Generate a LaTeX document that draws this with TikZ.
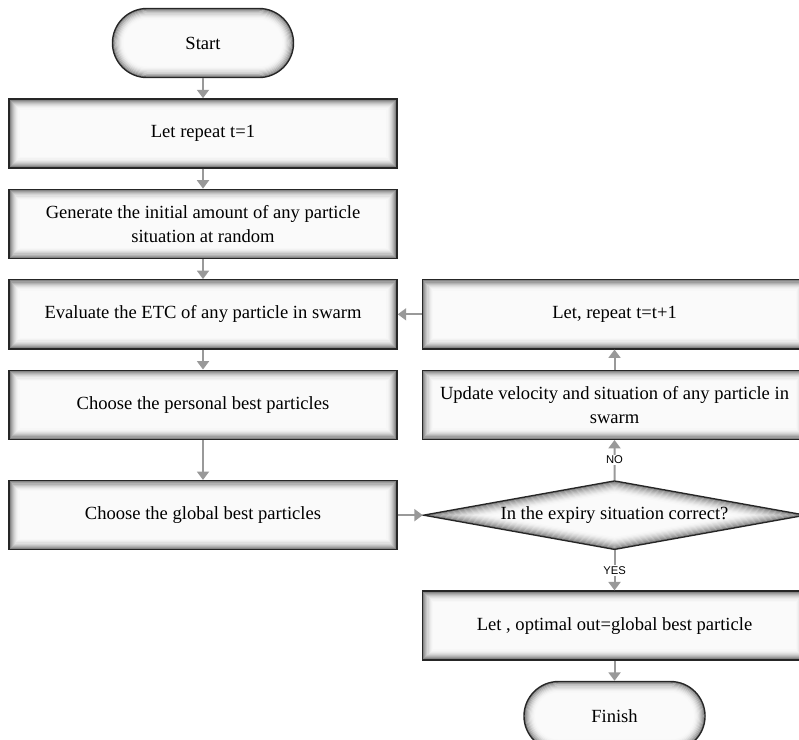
\documentclass[tikz,border=0pt]{standalone}
\usepackage{fontspec}
\setmainfont{Liberation Serif}
\newfontfamily\labelfont{Liberation Sans}
\usetikzlibrary{arrows.meta, positioning, shapes.geometric}

\begin{document}
\begin{tikzpicture}[
        x=0.025cm, y=-0.025cm,
        >={Triangle[length=6pt, width=8.5pt]},
        flow/.style={->, draw=black!40, line width=1.4pt},
        process/.style={
            rectangle,
            draw=black!85,
            line width=1pt,
            fill=gray!4,
            minimum width=9.7cm,
            minimum height=1.725cm,
            align=center,
            font=\fontsize{13.2}{17}\selectfont,
            path picture={
                \foreach \k/\g in {1/48,2/38,3/30,4/23,5/17,6/12,7/8,8/5,9/3}
                    \draw[black!\g, line width=0.9pt]
                        ([shift={(\k*0.8pt,-\k*0.8pt)}]path picture bounding box.north west) rectangle
                        ([shift={(-\k*0.8pt,\k*0.8pt)}]path picture bounding box.south east);
            }
        },
        wide/.style={minimum width=9.6cm},
        terminal/.style={
            rectangle,
            rounded corners=0.8625cm,
            draw=black!85,
            line width=1pt,
            fill=gray!4,
            minimum width=4.525cm,
            minimum height=1.725cm,
            font=\fontsize{13.2}{17}\selectfont,
            path picture={
                \foreach \k/\g [evaluate=\k as \rr using 24.45-\k*0.8] in {1/48,2/38,3/30,4/23,5/17,6/12,7/8,8/5,9/3}
                    \draw[black!\g, line width=0.9pt, rounded corners=\rr pt]
                        ([shift={(\k*0.8pt,-\k*0.8pt)}]path picture bounding box.north west) rectangle
                        ([shift={(-\k*0.8pt,\k*0.8pt)}]path picture bounding box.south east);
            }
        },
        decision/.style={
            diamond,
            draw=black!85,
            line width=1pt,
            fill=gray!4,
            inner sep=0pt,
            aspect=5.5,
            minimum width=9.55cm,
            minimum height=1.725cm,
            font=\fontsize{13.2}{17}\selectfont,
            path picture={
                \foreach \k/\g in {1/48,2/40,3/33,4/27,5/21,6/16,7/12,8/8,9/5,10/3}
                    \draw[black!\g, line width=0.9pt]
                        ([xshift=\k*4.5pt]path picture bounding box.west) --
                        ([yshift=-\k*0.82pt]path picture bounding box.north) --
                        ([xshift=-\k*4.5pt]path picture bounding box.east) --
                        ([yshift=\k*0.82pt]path picture bounding box.south) -- cycle;
            }
        },
        answer/.style={fill=white, inner sep=1pt, font=\labelfont\fontsize{8}{9}\selectfont}
    ]

    \useasboundingbox (0,0) rectangle (799,739);
    \clip (0,0) rectangle (799,739);

    % Left column
    \node[terminal] (start) at (203,43) {Start};
    \node[process, below=0.5cm of start] (init) {Let repeat t=1};
    \node[process, below=0.5cm of init] (generate) {Generate the initial amount of any particle\\situation at random};
    \node[process, below=0.5cm of generate] (evaluate) {Evaluate the ETC of any particle in swarm};
    \node[process, below=0.5cm of evaluate] (pbest) {Choose the personal best particles};
    \node[process, below=1cm of pbest] (gbest) {Choose the global best particles};

    % Right column
    \node[decision, right=0.625cm of gbest] (check) {In the expiry situation correct?};
    \node[process, wide, right=0.6cm of evaluate] (repeat) {Let, repeat t=t+1};
    \node[process, wide, below=0.5cm of repeat] (update) {Update velocity and situation of any particle in\\swarm};
    \node[process, wide, below=1cm of check] (result) {Let , optimal out=global best particle};
    \node[terminal, below=0.5cm of result] (finish) {Finish};

    % Arrows
    \draw[flow] (start) -- (init);
    \draw[flow] (init) -- (generate);
    \draw[flow] (generate) -- (evaluate);
    \draw[flow] (evaluate) -- (pbest);
    \draw[flow] (pbest) -- (gbest);
    \draw[flow] (gbest) -- (check);
    \draw[flow] (check) -- node[answer] {NO} (update);
    \draw[flow] (update) -- (repeat);
    \draw[flow] (repeat) -- (evaluate);
    \draw[flow] (check) -- node[answer] {YES} (result);
    \draw[flow] (result) -- (finish);

\end{tikzpicture}
\end{document}
